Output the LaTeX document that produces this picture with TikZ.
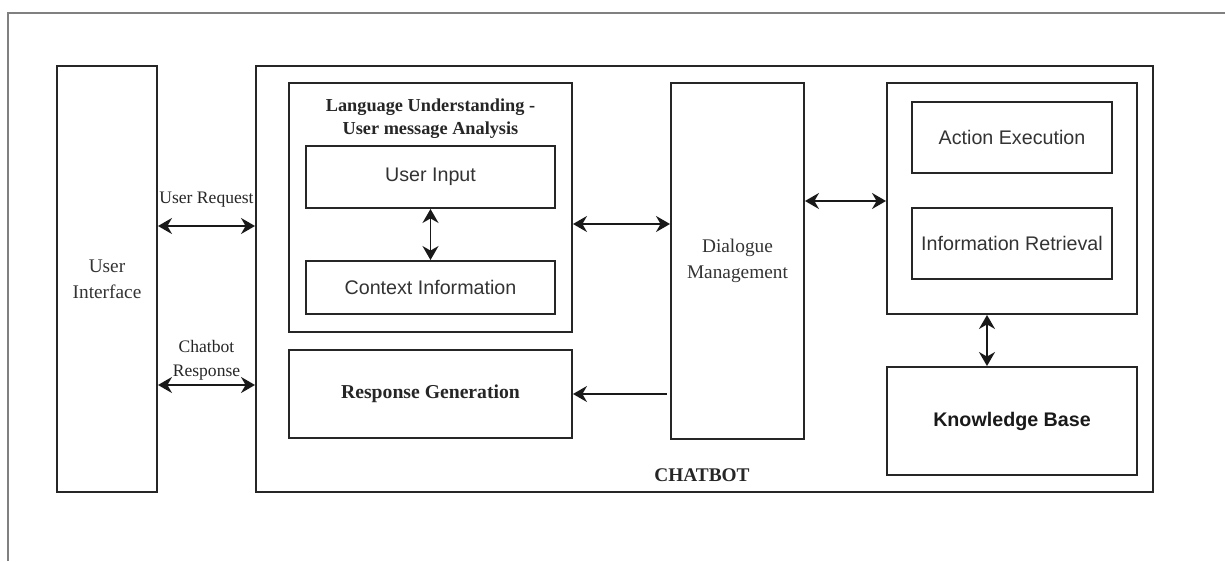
\documentclass[tikz,border=0pt]{standalone}
\usepackage{fontspec}
\setmainfont{Liberation Serif}
\setsansfont{Liberation Sans}
\usetikzlibrary{arrows.meta, calc}

\begin{document}
\begin{tikzpicture}[
    blockbox/.style={draw=black!85, line width=1.1pt, inner sep=0pt, align=center, text=black!80},
    seriftext/.style={font=\fontsize{11}{15}\selectfont},
    sanstext/.style={font=\sffamily\fontsize{11.2}{13}\selectfont},
    labeltext/.style={font=\fontsize{10}{13.5}\selectfont, align=center, text=black!85, inner sep=0pt},
    biarrow/.style={{Stealth[length=2.8mm,width=3.2mm]}-{Stealth[length=2.8mm,width=3.2mm]}, line width=1.1pt, black!90},
    onearrow/.style={-{Stealth[length=2.8mm,width=3.2mm]}, line width=1.1pt, black!90}
  ]
  \useasboundingbox (0,0) rectangle (24.5,11.22);
  \draw [gray, line width=0.6pt] (0.16,0) -- (0.16,10.96) -- (24.5,10.96);

  % user side and chatbot frame
  \node [blockbox, seriftext, minimum width=2cm, minimum height=8.52cm] (ui) at (2.14,5.64) {User\\Interface};
  \node [blockbox, minimum width=17.94cm, minimum height=8.52cm] (bot) at (14.09,5.64) {};
  \node [font=\bfseries\fontsize{11}{13}\selectfont, text=black!85] (botlabel) at (14.04,1.72) {CHATBOT};

  % language understanding
  \node [blockbox, minimum width=5.66cm, minimum height=4.98cm] (lu) at (8.61,7.07) {};
  \node [font=\bfseries\fontsize{10.4}{13}\selectfont, align=center, text=black!85] (lutitle) at (8.61,8.85) {Language Understanding -\\User message Analysis};
  \node [blockbox, sanstext, minimum width=4.98cm, minimum height=1.24cm] (input) at (8.61,7.68) {User Input};
  \node [blockbox, sanstext, minimum width=4.98cm, minimum height=1.06cm] (context) at (8.61,5.47) {Context Information};
  \node [blockbox, font=\bfseries\fontsize{11.2}{13}\selectfont, text=black!85, minimum width=5.66cm, minimum height=1.76cm] (respgen) at (8.61,3.34) {Response Generation};

  % dialogue and back end
  \node [blockbox, seriftext, minimum width=2.66cm, minimum height=7.12cm] (dm) at (14.75,6.0) {Dialogue\\Management};
  \node [blockbox, minimum width=5cm, minimum height=4.62cm] (tasks) at (20.24,7.25) {};
  \node [blockbox, sanstext, minimum width=4cm, minimum height=1.42cm] (action) at (20.24,8.47) {Action Execution};
  \node [blockbox, sanstext, minimum width=4cm, minimum height=1.42cm] (retrieval) at (20.24,6.35) {Information Retrieval};
  \node [blockbox, font=\sffamily\bfseries\fontsize{11.2}{13}\selectfont, text=black!90, minimum width=5cm, minimum height=2.16cm] (kb) at (20.24,2.8) {Knowledge Base};

  % connectors
  \coordinate (reqout) at ([yshift=1.06cm]ui.east);
  \coordinate (resout) at ([yshift=-2.12cm]ui.east);
  \coordinate (luout) at ([yshift=-0.33cm]lu.east);
  \coordinate (dmout) at ([yshift=1.2cm]dm.east);
  \draw [biarrow] (reqout) -- (reqout -| bot.west) node[midway, yshift=0.52cm, labeltext]{User Request};
  \draw [biarrow] (resout) -- (resout -| bot.west) node[midway, yshift=0.5cm, labeltext]{Chatbot\\Response};
  \draw [biarrow] (input.south) -- (context.north);
  \draw [biarrow] (luout) -- (luout -| dm.west);
  \draw [biarrow] (dmout) -- (dmout -| tasks.west);
  \draw [onearrow] ([xshift=-0.06cm]respgen.east -| dm.west) -- (respgen.east);
  \draw [biarrow] ([xshift=-0.5cm]tasks.south) -- ([xshift=-0.5cm]kb.north);
\end{tikzpicture}
\end{document}
